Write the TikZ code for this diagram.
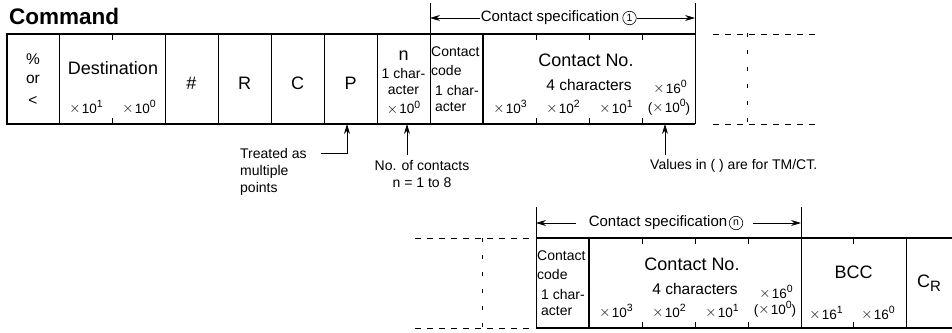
\documentclass[tikz,border=0pt]{standalone}
\usepackage{fontspec}
\setmainfont{Liberation Sans}
\usetikzlibrary{arrows.meta}
\newcommand\mypow[2]{\raisebox{0.05em}{$\times$}\hspace{0.1em}#1\raisebox{0.42em}{\fontsize{10.5}{11}\selectfont #2}}
\begin{document}
\begin{tikzpicture}[x=1pt,y=-1pt,
  big/.style={font=\fontsize{18}{20}\selectfont, inner sep=0pt},
  mid/.style={font=\fontsize{15.5}{17}\selectfont, inner sep=0pt},
  sml/.style={font=\fontsize{14}{16}\selectfont, inner sep=0pt},
  tiny/.style={font=\fontsize{13.5}{15}\selectfont, inner sep=0pt},
  circnum/.style={circle, draw, line width=0.6pt, inner sep=0pt, minimum size=13.5pt, font=\fontsize{10.5}{10.5}\selectfont},
  outer/.style={line width=1.4pt},
  div/.style={line width=0.8pt},
  divthick/.style={line width=1.3pt},
  dsh/.style={line width=0.8pt, dash pattern=on 6pt off 6pt},
  vdsh/.style={line width=0.8pt, dash pattern=on 4pt off 13pt},
  arr/.style={line width=0.8pt, -{Stealth[length=10pt,width=6pt]}},
]
\useasboundingbox (0,0) rectangle (952,332);

% ---------- title ----------
\node[font=\fontsize{22.5}{24}\bfseries, inner sep=0pt, anchor=west] (title) at (9,16) {Command};

% ---------- top row frame ----------
\draw[outer] (695,34) -- (7,34) -- (7,124) -- (695,124);
\draw[div] (695,34) -- (695,124);
\foreach \x in {59,165,218,271,324,377,430} \draw[div] (\x,34) -- (\x,124);
\draw[divthick] (483,34) -- (483,124);
\foreach \x in {112,536,589,642} {
  \draw[div] (\x,34) -- (\x,40);
  \draw[div] (\x,124) -- (\x,118);
}
% dashed continuation
\draw[dsh] (713,34) -- (817,34);
\draw[dsh] (713,124) -- (817,124);
\draw[vdsh] (747,33) -- (747,124);

% ---------- top row texts ----------
\node[mid] (pct) at (33,59) {\%};
\node[mid] (or) at (33,79) {or};
\node[mid] (lt) at (33,101) {<};
\node[big] (dest) at (113,68) {Destination};
\node[tiny] (d1) at (86,107) {\mypow{10}{1}};
\node[tiny] (d0) at (139,107) {\mypow{10}{0}};
\node[big] (hash) at (191.5,83) {\#};
\node[big] (R) at (244.5,83) {R};
\node[big] (C) at (297.5,83) {C};
\node[big] (P) at (350.5,83) {P};
\node[big] (n) at (403.5,56) {n};
\node[sml] (n1) at (403.5,73) {1 char-};
\node[sml] (n2) at (403.5,90) {acter};
\node[tiny] (n3) at (403.5,107.5) {\mypow{10}{0}};
\node[sml, anchor=west] (cc1) at (431,52) {Contact};
\node[sml, anchor=west] (cc2) at (431,70) {code};
\node[sml, anchor=west] (cc3) at (435,90) {1 char-};
\node[sml, anchor=west] (cc4) at (435,107) {acter};
\node[big] (cno) at (586,60) {Contact No.};
\node[mid] (cch) at (589,85) {4 characters};
\node[tiny] (e3) at (510,107) {\mypow{10}{3}};
\node[tiny] (e2) at (563,107) {\mypow{10}{2}};
\node[tiny] (e1) at (616,107) {\mypow{10}{1}};
\node[tiny] (h0) at (670,87) {\mypow{16}{0}};
\node[tiny] (p0) at (669,107) {(\mypow{10}{0})};

% ---------- contact specification 1 ----------
\draw[div] (430,3) -- (430,34);
\draw[div] (695,3) -- (695,34);
\coordinate (tl) at (430,18);
\coordinate (tr) at (695,18);
\node[mid, font=\fontsize{15}{17}\selectfont, inner sep=1pt] (cs1) at (550,18) {Contact specification};
\node[circnum] (c1) at (629.5,18) {1};
\draw[arr] (cs1.west) -- (tl);
\draw[arr] (c1.east) -- (tr);

% ---------- notes below top row ----------
\coordinate (pbot) at (347,124);
\node[sml, anchor=west] (treat) at (240,153) {Treated as};
\node[sml, anchor=west] (mult) at (240,172) {multiple};
\node[sml, anchor=west] (pts) at (240,189) {points};
\draw[arr] ([xshift=14pt]treat.east) -| (pbot);

\coordinate (nbot) at (407,124);
\coordinate (ntop) at (407,155);
\node[sml] (noc) at (422,166) {No. of contacts};
\node[sml] (nrange) at (422,183) {n = 1 to 8};
\draw[arr] (ntop) -- (nbot);

\coordinate (vbot) at (665,124);
\coordinate (vtop) at (665,155);
\node[sml, anchor=west] (vals) at (650,166) {Values in ( ) are for TM/CT.};
\draw[arr] (vtop) -- (vbot);

% ---------- bottom row frame ----------
\draw[outer] (536,238) -- (952,238);
\draw[outer] (536,328) -- (952,328);
\draw[div] (536,238) -- (536,328);
\draw[divthick] (589,238) -- (589,328);
\draw[div] (801,238) -- (801,328);
\draw[div] (906,238) -- (906,328);
\foreach \x in {642,695,748,853} {
  \draw[div] (\x,238) -- (\x,244);
  \draw[div] (\x,328) -- (\x,322);
}
\draw[dsh] (415,238) -- (530,238);
\draw[dsh] (415,328) -- (530,328);
\draw[vdsh] (482,238) -- (482,330);

% ---------- bottom row texts ----------
\node[sml, anchor=west] (bcc1) at (537,256) {Contact};
\node[sml, anchor=west] (bcc2) at (537,274) {code};
\node[sml, anchor=west] (bcc3) at (541,294) {1 char-};
\node[sml, anchor=west] (bcc4) at (541,311) {acter};
\node[big] (bcno) at (692,264) {Contact No.};
\node[mid] (bcch) at (695,289) {4 characters};
\node[tiny] (be3) at (616,311) {\mypow{10}{3}};
\node[tiny] (be2) at (669,311) {\mypow{10}{2}};
\node[tiny] (be1) at (722,311) {\mypow{10}{1}};
\node[tiny] (bh0) at (776,292) {\mypow{16}{0}};
\node[tiny] (bp0) at (775,309) {(\mypow{10}{0})};
\node[big] (bcc) at (853.5,272) {BCC};
\node[tiny] (bh1) at (826,313) {\mypow{16}{1}};
\node[tiny] (bh00) at (878,313) {\mypow{16}{0}};
\node[big] (cr) at (929,283) {C\raisebox{-0.25em}{\fontsize{15}{15}\selectfont R}};

% ---------- contact specification n ----------
\draw[div] (536,207) -- (536,238);
\draw[div] (801,207) -- (801,238);
\coordinate (bl) at (536,223);
\coordinate (br) at (801,223);
\node[mid, font=\fontsize{15}{17}\selectfont, inner sep=0pt] (csn) at (658,223) {Contact specification};
\node[circnum] (cn) at (736,223) {n};
\draw[arr] ([xshift=-13pt]csn.west) -- (bl);
\draw[arr] ([xshift=10pt]cn.east) -- (br);
\end{tikzpicture}
\end{document}
